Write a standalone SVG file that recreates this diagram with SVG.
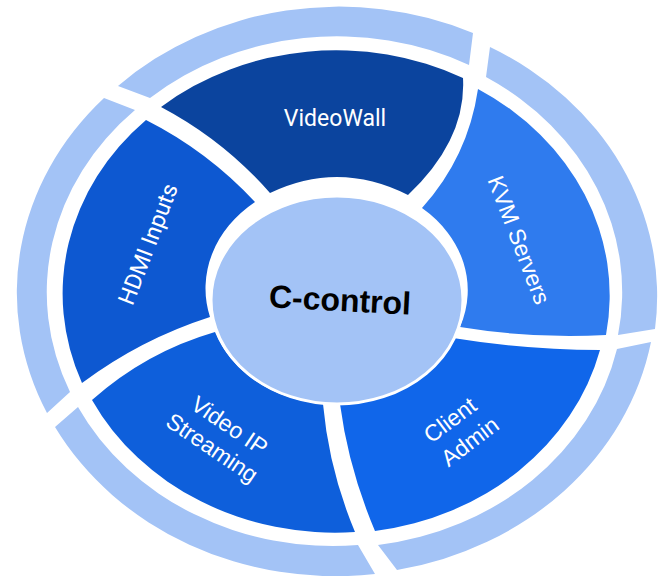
<svg xmlns="http://www.w3.org/2000/svg" width="662" height="576" viewBox="0 0 662 576">
  <style>
    .ring { fill: #A3C3F6; }
    .lbl { fill: #FFFFFF; font-family: "Liberation Sans", Arial, sans-serif; font-size: 23px; text-anchor: middle; }
    .lblr { fill: #FFFFFF; font-family: Roboto, "Liberation Sans", sans-serif; font-size: 23px; text-anchor: middle; }
    .core { fill: #A3C3F6; stroke: #FFFFFF; stroke-width: 3; }
    .title { fill: #000000; font-family: "Liberation Sans", Arial, sans-serif; font-size: 32px; font-weight: bold; text-anchor: middle; }
  </style>
  <rect width="662" height="576" fill="#FFFFFF"/>
  <g id="outer-ring">
    <path class="ring" d="M118,86 A318,283 0 0 1 473,33 L469,65 A285,252 0 0 0 150,98 Z"/>
    <path class="ring" d="M490,47 A318,283 0 0 1 655,329 L618,335 A285,252 0 0 0 486,77 Z"/>
    <path class="ring" d="M651,342 A318,283 0 0 1 397,570 L378,545 A285,252 0 0 0 617,349 Z"/>
    <path class="ring" d="M375,574 A318,283 0 0 1 55,427 L78,407 A285,252 0 0 0 358,545 Z"/>
    <path class="ring" d="M47,413 A318,283 0 0 1 104,98 L135,110 A285,252 0 0 0 70,392 Z"/>
  </g>
  <g id="connectors"/>
  <g id="videowall">
    <path fill="#0B449E" d="M161,107 A272,241 0 0 1 463,78 Q466.5,139.5 408,195 Q339,160 270,193 Q223.5,140 161,107 Z"/>
    <text class="lblr" x="335" y="126">VideoWall</text>
  </g>
  <g id="kvm-servers">
    <path fill="#2F7BEE" d="M478,89 A272,241 0 0 1 606,335 Q533,339 460,327 A130,108 0 0 0 422,208 Q468,157 478,89 Z"/>
    <text class="lbl" transform="translate(519,240) rotate(69)" x="0" y="8">KVM Servers</text>
  </g>
  <g id="client-admin">
    <path fill="#1066EA" d="M340,404 A128,106 0 0 0 453,338 Q526.5,350 600,350 A272,241 0 0 1 375,531 Q348.5,468.5 340,404 Z"/>
    <text class="lbl" transform="translate(459,432) rotate(-37)"><tspan x="0" y="-7">Client</tspan><tspan x="3" y="22">Admin</tspan></text>
  </g>
  <g id="video-ip-streaming">
    <path fill="#0E5FDB" d="M92,400 Q146,352 215,332 A128,106 0 0 0 323,404 Q329,470 355,532 A272,241 0 0 1 92,400 Z"/>
    <text class="lbl" transform="translate(220,436) rotate(34)"><tspan x="2" y="-6">Video IP</tspan><tspan x="0" y="22">Streaming</tspan></text>
  </g>
  <g id="hdmi-inputs">
    <path fill="#0D58D1" d="M146,120 Q207.5,151 255,202 A133,111 0 0 0 210,317 Q140.5,339.3 82,383 A272,241 0 0 1 146,120 Z"/>
    <text class="lblr" transform="translate(148,244) rotate(-69)" x="0" y="8">HDMI Inputs</text>
  </g>
  <g id="c-control">
    <ellipse class="core" cx="337" cy="300" rx="126" ry="104"/>
    <text class="title" transform="translate(340,300) rotate(3)" x="0" y="11">C-control</text>
  </g>
</svg>
